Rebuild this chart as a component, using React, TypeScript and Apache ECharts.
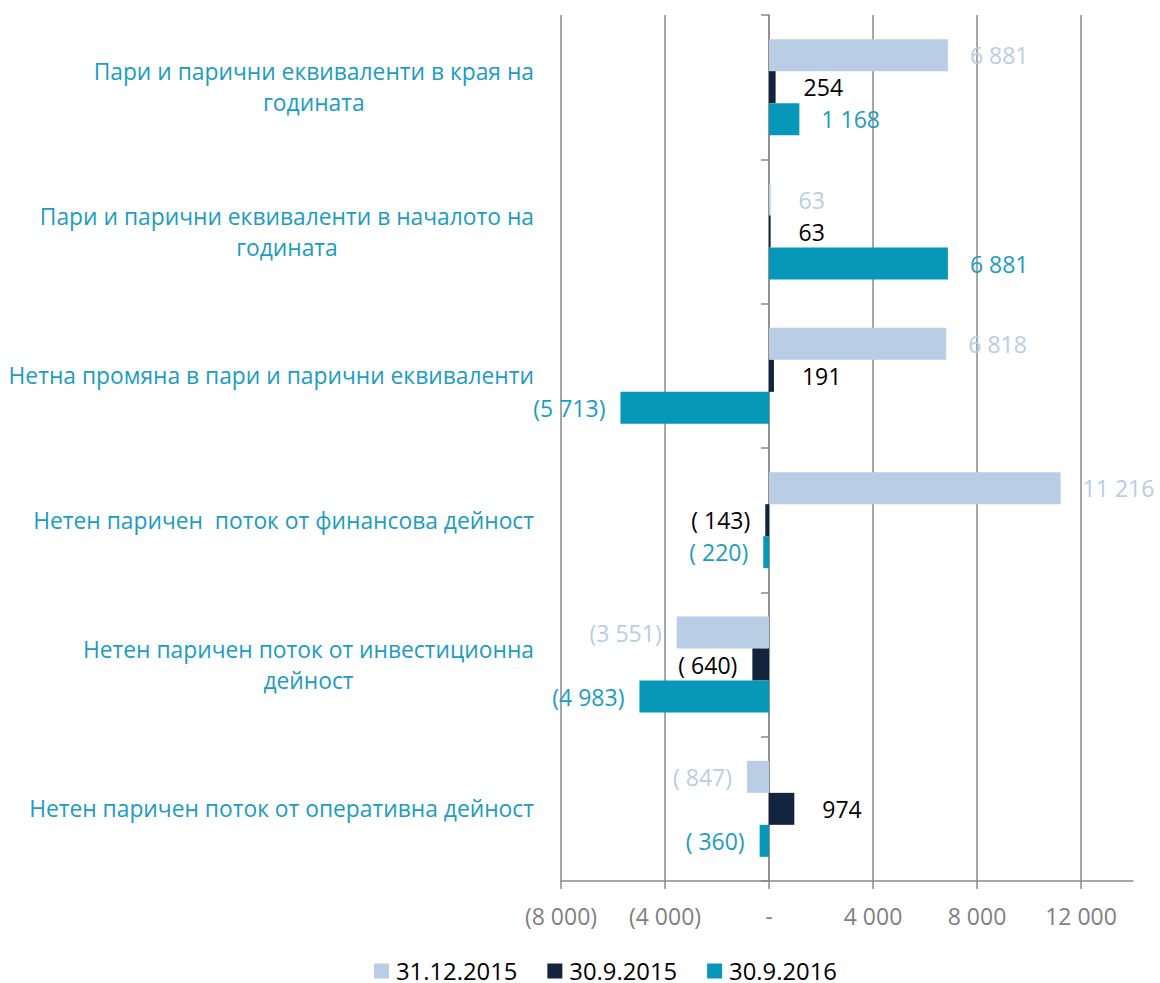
import React, { useEffect, useRef } from "react";
import * as echarts from "echarts";

const categories = [
  "Нетен паричен поток от оперативна дейност",
  "Нетен паричен поток от инвестиционна\nдейност",
  "Нетен паричен  поток от финансова дейност",
  "Нетна промяна в пари и парични еквиваленти",
  "Пари и парични еквиваленти в началото на\nгодината",
  "Пари и парични еквиваленти в края на\nгодината",
];

const seriesNames = ["31.12.2015", "30.9.2015", "30.9.2016"];
const values20151231 = [-847, -3551, 11216, 6818, 63, 6881];
const values20150930 = [974, -640, -143, 191, 63, 254];
const values20160930 = [-360, -4983, -220, -5713, 6881, 1168];

const xTicks = [-8000, -4000, 0, 4000, 8000, 12000];

const barColors = ["#B9CDE5", "#14243F", "#0797B8"];
const labelColors = ["#B9CDE5", "#000000", "#1C9CC2"];
const catColor = "#1C9CC2";
const gray = "#8a8a8a";
const FONT = "'Open Sans'";

function groupNum(n: number): string {
  const s = String(Math.round(Math.abs(n)));
  return s.replace(/\B(?=(\d{3})+(?!\d))/g, " ");
}

function fmtLabel(v: number): string {
  const a = Math.abs(v);
  const body = (a < 1000 ? " " : "") + groupNum(a);
  return v < 0 ? "(" + body + ")" : body;
}

function fmtAxis(v: number): string {
  if (v === 0) return "-";
  const body = groupNum(v);
  return v < 0 ? "(" + body + ")" : body;
}

export default function App() {
  const ref = useRef<HTMLDivElement>(null);
  useEffect(() => {
    if (!ref.current) return;
    const chart = echarts.init(ref.current, undefined, { renderer: "svg" });
    const allSeries = [values20151231, values20150930, values20160930];
    chart.setOption({
      animation: false,
      textStyle: { fontFamily: FONT },
      grid: { left: 561, right: 27, top: 15, bottom: 102 },
      legend: {
        data: seriesNames,
        left: 369,
        top: 954,
        itemWidth: 15,
        itemHeight: 15,
        itemGap: 30,
        icon: "rect",
        textStyle: {
          fontSize: 23.8,
          lineHeight: 23,
          color: "#000",
          fontFamily: FONT,
          padding: [0, 0, 0, 2],
        },
      },
      xAxis: {
        type: "value",
        min: -8000,
        max: 14000,
        interval: 4000,
        axisLine: { show: true, lineStyle: { color: gray, width: 1.5 } },
        axisTick: { show: true, length: 8, customValues: xTicks, lineStyle: { color: gray, width: 1.5 } },
        splitLine: {
          show: true,
          lineStyle: {
            color: [gray, gray, gray, gray, gray, gray, "rgba(0,0,0,0)"],
            width: 1.5,
          },
        },
        axisLabel: {
          customValues: xTicks,
          formatter: (v: number) => (v > 12000 ? "" : fmtAxis(v)),
          color: "#7f7f7f",
          fontSize: 23,
          margin: 23,
          fontFamily: FONT,
        },
      },
      yAxis: [
        {
          type: "category",
          data: categories,
          position: "left",
          axisLine: { show: false, onZero: false },
          axisTick: { show: false },
          splitLine: { show: false },
          axisLabel: {
            margin: 27,
            color: catColor,
            fontSize: 22.8,
            lineHeight: 31,
            fontFamily: FONT,
            align: "right",
            formatter: (val: string) => {
              const parts = val.split("\n");
              return parts.length > 1 ? parts[0] + "\n{c|" + parts[1] + "}" : val;
            },
            rich: {
              c: { align: "center", color: catColor, fontSize: 22.8, lineHeight: 31, fontFamily: FONT },
            },
          },
        },
        {
          type: "category",
          data: categories,
          position: "left",
          axisLine: { show: true, onZero: true, onZeroAxisIndex: 0, lineStyle: { color: gray, width: 1.5 } },
          axisTick: { show: true, length: 8, lineStyle: { color: gray, width: 1.5 } },
          axisLabel: { show: false },
          splitLine: { show: false },
        },
      ],
      series: allSeries.map((vals, i) => ({
        name: seriesNames[i],
        type: "bar",
        yAxisIndex: 0,
        barWidth: 32,
        barGap: "0%",
        itemStyle: { color: barColors[i] },
        label: {
          show: true,
          color: labelColors[i],
          fontSize: 23,
          fontFamily: FONT,
          formatter: (p: any) => fmtLabel(p.value),
        },
        data: vals.map((v) => ({
          value: v,
          label: { position: v < 0 ? "left" : "right", distance: v < 0 ? 15 : 22 },
        })),
      })),
    });
    return () => chart.dispose();
  }, []);
  return (
    <div
      ref={ref}
      style={{ position: "absolute", left: 0, top: 0, width: 1160, height: 983 }}
    />
  );
}
